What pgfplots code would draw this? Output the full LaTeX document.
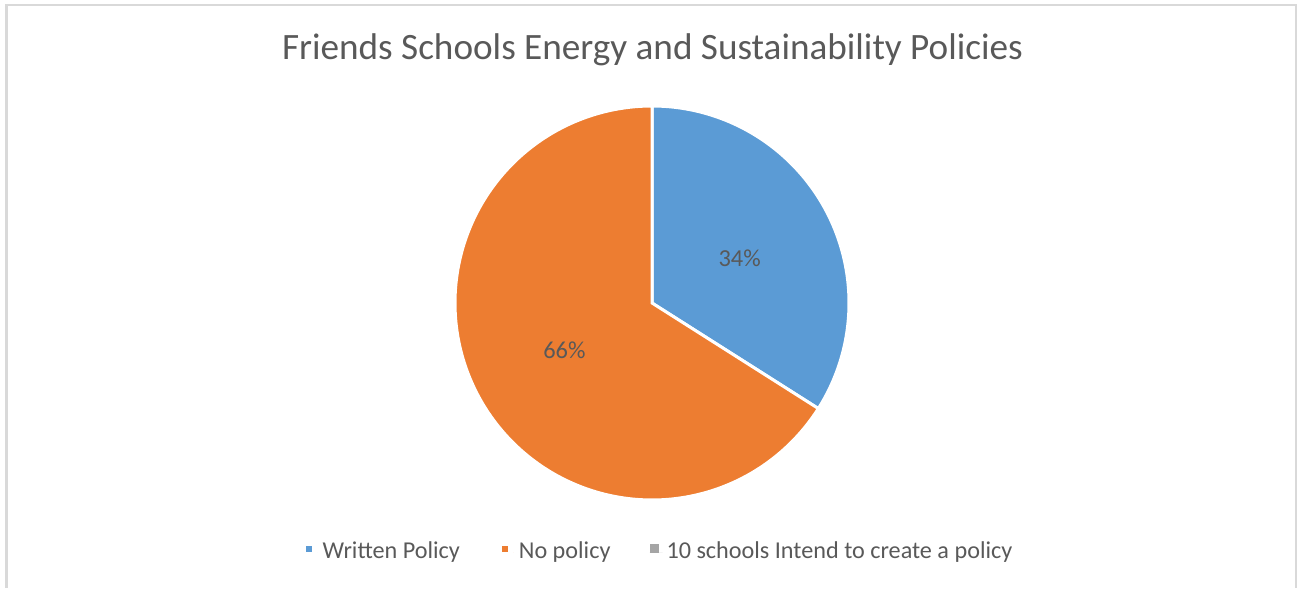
\documentclass[border=0pt]{standalone}
\usepackage{pgfplots}
\pgfplotsset{compat=1.18}
\usepackage{fontspec}
\setmainfont{Carlito}
\definecolor{cblue}{HTML}{5B9BD5}
\definecolor{corange}{HTML}{ED7D31}
\definecolor{cgray}{HTML}{A5A5A5}
\definecolor{ctext}{HTML}{595959}
\definecolor{cborder}{HTML}{D9D9D9}
% data (percent)
\newcommand\va{34}% Written Policy
\newcommand\vb{66}% No policy
\newcommand\vc{0}% 10 schools Intend to create a policy
\pgfmathsetmacro\aA{90}
\pgfmathsetmacro\aB{90-3.6*\va}
\pgfmathsetmacro\aC{\aB-3.6*\vb}
\pgfmathsetmacro\mA{(\aA+\aB)/2}
\pgfmathsetmacro\mB{(\aB+\aC)/2}
\begin{document}
\begin{tikzpicture}
\begin{axis}[
  width=648.5pt, height=293pt, scale only axis,
  xmin=0, xmax=1297, ymin=0, ymax=586,
  hide axis, clip=false,
  legend columns=3,
  legend style={draw=none, fill=none, at={(rel axis cs:0.5085,0.058)}, anchor=center,
    font=\fontsize{12.1}{14}\selectfont, text=ctext,
    /tikz/every even column/.append style={column sep=17.5pt}},
  legend image code/.code={\path (0pt,0pt) -- (6.5pt,0pt);\fill (0pt,-0.7pt) rectangle (4.5pt,3.8pt);},
]
\path (axis cs:0,0) rectangle (axis cs:1297,586);
\draw[cborder, line width=1pt] (axis cs:6.5,-2) -- (axis cs:6.5,580.5) -- (axis cs:1296,580.5) -- (axis cs:1296,-2);
\addplot[fill=cblue, draw=white, line width=1.5pt, domain=\aB:\aA, samples=150, variable=\t]
  ({652+197*cos(\t)},{283+197*sin(\t)}) -- (axis cs:652,283) -- cycle;
\addplot[fill=corange, draw=white, line width=1.5pt, domain=\aC:\aB, samples=200, variable=\t]
  ({652+197*cos(\t)},{283+197*sin(\t)}) -- (axis cs:652,283) -- cycle;
\addlegendimage{fill=cgray, draw=none}
\legend{Written Policy, No policy, 10 schools Intend to create a policy}
\node[text=ctext, font=\fontsize{12.2}{14}\selectfont] at (axis cs:{652+100*cos(\mA)},{280+100*sin(\mA)}) {\va\%};
\node[text=ctext, font=\fontsize{12.2}{14}\selectfont] at (axis cs:{652+100*cos(\mB)},{284+100*sin(\mB)}) {\vb\%};
\node[text=ctext, font=\fontsize{18.6}{22}\selectfont, anchor=base] at (axis cs:652.5,526) {Friends Schools Energy and Sustainability Policies};
\end{axis}
\end{tikzpicture}
\end{document}
